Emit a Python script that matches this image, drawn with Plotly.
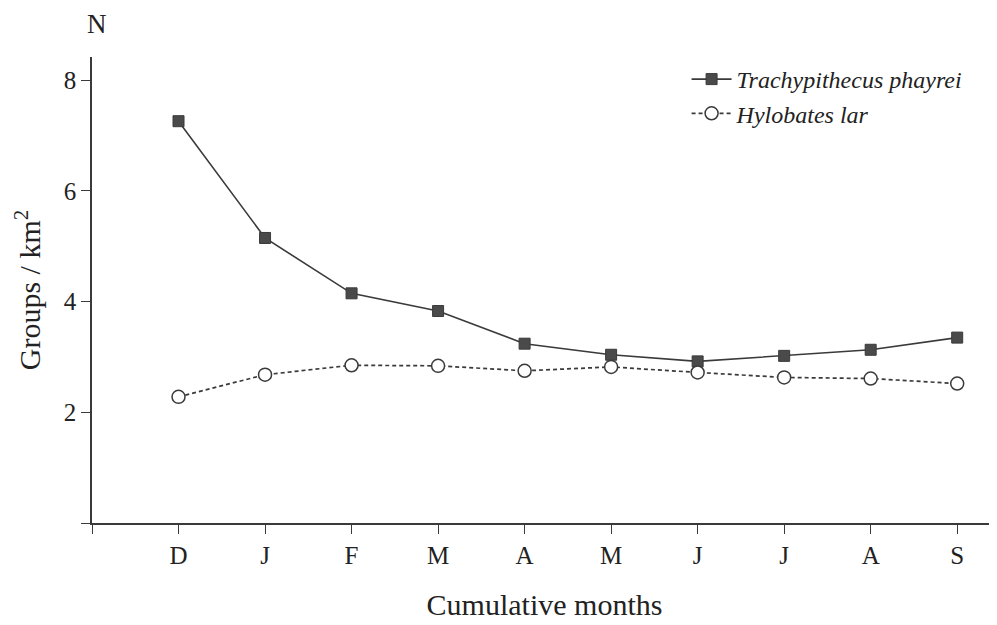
import plotly.graph_objects as go

months = ["D", "J", "F", "M", "A", "M", "J", "J", "A", "S"]
trachy = [7.26, 5.15, 4.15, 3.83, 3.24, 3.04, 2.92, 3.02, 3.13, 3.35]
hylob = [2.28, 2.68, 2.85, 2.84, 2.75, 2.82, 2.72, 2.63, 2.61, 2.52]
y_ticks = [0, 2, 4, 6, 8]
y_ticklabels = ["", "2", "4", "6", "8"]

xpos = list(range(len(months)))
ink = "#3a3a3a"
font = "Liberation Serif"

fig = go.Figure()
fig.add_trace(go.Scatter(
    x=xpos, y=trachy, mode="lines+markers", name="<i>Trachypithecus phayrei</i>",
    line=dict(color=ink, width=1.6),
    marker=dict(symbol="square", size=11, color="#4a4a4a", line=dict(color=ink, width=1)),
))
fig.add_trace(go.Scatter(
    x=xpos, y=hylob, mode="lines+markers", name="<i>Hylobates lar</i>",
    line=dict(color=ink, width=1.7, dash="4px,3px"),
    marker=dict(symbol="circle", size=13, color="white", line=dict(color=ink, width=1.5)),
))

fig.update_layout(
    width=997, height=625,
    margin=dict(l=84, r=8, t=49, b=110),
    paper_bgcolor="white", plot_bgcolor="white",
    font=dict(family=font, color="#222", size=22),
    showlegend=True,
    legend=dict(x=0.657, y=1.0, xanchor="left", yanchor="top",
                font=dict(family=font, size=24, color="#222"),
                bgcolor="rgba(0,0,0,0)", tracegroupgap=0, itemwidth=40),
    xaxis=dict(
        range=[-1, 9.46], tickmode="array", tickvals=[-1] + xpos,
        ticktext=[""] + months, ticks="outside", ticklen=9, tickwidth=1.4,
        tickcolor=ink, showline=True, linecolor=ink, linewidth=1.6,
        showgrid=False, zeroline=False, tickfont=dict(size=25),
        title=dict(text="Cumulative months", font=dict(size=30), standoff=26),
    ),
    yaxis=dict(
        range=[0, 8.42], tickmode="array", tickvals=y_ticks,
        ticktext=y_ticklabels, ticks="outside", ticklen=9, tickwidth=1.4,
        tickcolor=ink, showline=True, linecolor=ink, linewidth=1.6,
        showgrid=False, zeroline=False, tickfont=dict(size=25),
        title=dict(text="Groups / km<sup>2</sup>", font=dict(size=30), standoff=14),
    ),
)
fig.add_annotation(text="N", xref="paper", yref="paper", x=0.006, y=1.0,
                   yshift=16, xanchor="center", yanchor="bottom", showarrow=False,
                   font=dict(family=font, size=27, color="#222"))
fig.write_html("out.html")
